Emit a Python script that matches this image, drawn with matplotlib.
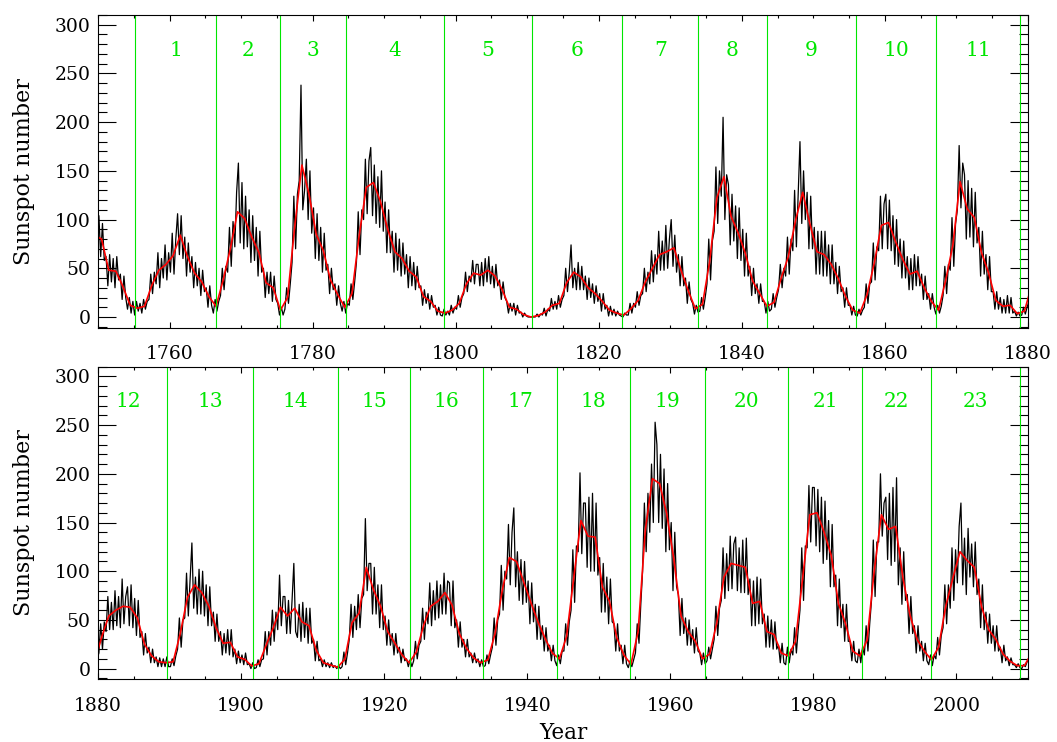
import matplotlib
matplotlib.use('Agg')
import matplotlib.pyplot as plt
import numpy as np
from matplotlib.ticker import MultipleLocator

# ---------------- data ----------------
# quarterly samples of the monthly sunspot number (4 per year)
black_start = 1749
black_values = [
    70, 112, 98, 60,     # 1749
    104, 62, 96, 58,     # 1750
    62, 32, 64, 36,
    60, 30, 62, 38,
    44, 18, 42, 20,
    8, 20, 4, 16,
    2, 16, 6, 14,        # 1755
    4, 18, 8, 16,
    18, 44, 24, 46,
    34, 66, 30, 60,
    40, 74, 38, 66,
    46, 86, 44, 80,      # 1760
    106, 64, 104, 60,
    82, 42, 76, 46,
    62, 30, 56, 32,
    50, 22, 48, 26,
    30, 10, 32, 12,      # 1765
    4, 18, 6, 16,
    22, 50, 28, 52,
    46, 92, 52, 98,
    72, 128, 158, 76,
    138, 70, 124, 72,    # 1770
    110, 56, 104, 58,
    92, 42, 88, 46,
    50, 20, 46, 24,
    46, 16, 42, 18,
    14, 2, 10, 2,        # 1775
    8, 30, 14, 34,
    56, 124, 70, 126,
    140, 238, 110, 130,
    162, 100, 150, 86,
    112, 60, 106, 58,    # 1780
    92, 46, 86, 48,
    54, 24, 50, 28,
    34, 12, 32, 14,
    6, 16, 4, 14,
    12, 34, 18, 36,      # 1785
    56, 108, 64, 110,
    100, 162, 106, 160,
    174, 104, 156, 96,
    144, 92, 150, 88,
    118, 66, 110, 66,    # 1790
    88, 46, 86, 48,
    80, 42, 76, 44,
    64, 30, 62, 32,
    56, 28, 52, 30,
    32, 12, 28, 14,      # 1795
    24, 8, 22, 10,
    12, 2, 10, 2,
    1, 8, 2, 6,
    2, 12, 4, 10,
    8, 22, 10, 20,       # 1800
    24, 46, 26, 42,
    36, 58, 34, 54,
    54, 32, 56, 32,
    60, 36, 62, 34,
    52, 30, 54, 32,      # 1805
    38, 18, 36, 20,
    16, 4, 14, 6,
    14, 2, 12, 4,
    5, 0, 4, 1,
    0, 0, 0, 0,          # 1810
    0, 3, 0, 3,
    2, 9, 1, 8,
    6, 19, 8, 16,
    8, 22, 10, 18,
    22, 50, 26, 46,      # 1815
    74, 30, 50, 28,
    56, 28, 52, 28,
    42, 18, 40, 20,
    34, 14, 32, 16,
    24, 6, 24, 8,        # 1820
    12, 1, 11, 2,
    8, 1, 6, 2,
    1, 0, 4, 2,
    2, 14, 4, 14,
    10, 26, 12, 22,      # 1825
    24, 50, 26, 46,
    34, 68, 36, 64,
    44, 88, 48, 78,
    48, 94, 50, 80,
    100, 52, 84, 46,     # 1830
    64, 32, 62, 32,
    40, 14, 36, 18,
    14, 3, 12, 5,
    6, 20, 8, 20,
    34, 80, 38, 78,      # 1835
    88, 154, 96, 150,
    124, 205, 100, 146,
    136, 74, 126, 78,
    114, 60, 112, 58,
    90, 42, 86, 42,      # 1840
    52, 22, 50, 24,
    34, 14, 34, 16,
    16, 4, 16, 6,
    8, 24, 10, 20,
    28, 54, 30, 50,      # 1845
    42, 82, 44, 80,
    68, 130, 72, 126,
    180, 96, 150, 100,
    128, 70, 124, 70,
    92, 44, 88, 44,      # 1850
    88, 42, 88, 42,
    74, 34, 74, 34,
    56, 24, 52, 26,
    30, 10, 30, 12,
    12, 2, 11, 2,        # 1855
    1, 8, 2, 7,
    10, 34, 14, 34,
    36, 76, 38, 72,
    68, 124, 70, 116,
    126, 70, 120, 68,    # 1860
    104, 54, 100, 52,
    80, 40, 78, 40,
    62, 28, 60, 28,
    64, 32, 62, 32,
    44, 18, 42, 18,      # 1865
    24, 8, 24, 10,
    3, 12, 4, 11,
    22, 52, 24, 54,
    48, 102, 52, 96,
    110, 176, 112, 158,  # 1870
    146, 80, 140, 82,
    132, 72, 128, 76,
    92, 42, 88, 44,
    64, 28, 62, 26,
    26, 8, 26, 8,        # 1875
    20, 4, 18, 4,
    22, 4, 20, 4,
    6, 1, 5, 1,
    2, 10, 3, 10,
    16, 46, 20, 48,      # 1880
    38, 74, 40, 68,
    40, 80, 44, 74,
    42, 92, 46, 74,
    84, 44, 86, 42,
    72, 34, 70, 32,      # 1885
    38, 14, 36, 16,
    22, 6, 20, 6,
    12, 2, 11, 2,
    10, 2, 12, 2,
    2, 10, 3, 13,        # 1890
    20, 52, 22, 50,
    52, 98, 54, 92,
    129, 62, 94, 56,
    102, 56, 100, 54,
    86, 44, 84, 44,      # 1895
    58, 28, 56, 28,
    38, 14, 36, 16,
    40, 14, 40, 12,
    20, 5, 18, 6,
    14, 4, 16, 4,        # 1900
    5, 0, 6, 0,
    1, 9, 2, 9,
    10, 38, 14, 38,
    24, 60, 28, 58,
    40, 96, 44, 74,      # 1905
    74, 36, 70, 36,
    70, 108, 38, 32,
    66, 28, 68, 32,
    62, 26, 62, 26,
    30, 8, 28, 8,        # 1910
    10, 2, 9, 2,
    6, 1, 6, 1,
    3, 0, 3, 0,
    2, 17, 4, 16,
    30, 66, 32, 64,      # 1915
    40, 76, 42, 72,
    76, 154, 80, 108,
    108, 56, 104, 56,
    86, 42, 86, 40,
    54, 24, 50, 24,      # 1920
    36, 14, 36, 16,
    22, 6, 20, 8,
    10, 2, 9, 2,
    8, 28, 10, 24,
    28, 62, 30, 58,      # 1925
    46, 88, 44, 80,
    50, 90, 52, 86,
    56, 98, 56, 90,
    88, 44, 90, 42,
    50, 22, 48, 22,      # 1930
    30, 12, 30, 12,
    16, 6, 16, 6,
    10, 2, 9, 2,
    3, 14, 5, 14,
    22, 52, 24, 50,      # 1935
    56, 106, 60, 100,
    92, 148, 86, 140,
    165, 84, 120, 70,
    112, 66, 110, 68,
    90, 46, 88, 48,      # 1940
    66, 30, 64, 30,
    44, 18, 42, 18,
    24, 8, 24, 8,
    3, 14, 5, 18,
    18, 46, 24, 48,      # 1945
    60, 122, 68, 126,
    120, 201, 118, 170,
    170, 104, 176, 100,
    180, 100, 170, 96,
    114, 58, 108, 58,    # 1950
    94, 46, 92, 48,
    46, 18, 46, 18,
    24, 5, 24, 5,
    1, 8, 2, 9,
    16, 46, 26, 66,      # 1955
    100, 170, 120, 180,
    140, 210, 150, 253,
    230, 150, 220, 144,
    205, 120, 190, 122,
    150, 80, 140, 84,    # 1960
    76, 34, 72, 36,
    52, 24, 50, 24,
    40, 16, 42, 18,
    16, 4, 16, 5,
    8, 22, 10, 20,       # 1965
    30, 64, 34, 62,
    70, 124, 72, 118,
    80, 136, 82, 128,
    135, 80, 124, 78,
    132, 78, 134, 76,    # 1970
    92, 44, 90, 44,
    94, 46, 92, 46,
    56, 22, 54, 22,
    50, 20, 48, 20,
    24, 6, 26, 6,        # 1975
    4, 22, 6, 20,
    14, 42, 16, 40,
    60, 124, 70, 126,
    124, 188, 130, 186,
    186, 126, 184, 120,  # 1980
    176, 108, 172, 112,
    152, 84, 148, 84,
    96, 44, 92, 42,
    66, 28, 66, 28,
    28, 8, 28, 8,        # 1985
    6, 20, 6, 22,
    14, 44, 18, 46,
    70, 132, 74, 130,
    130, 200, 136, 170,
    176, 112, 180, 106,  # 1990
    186, 110, 196, 86,
    124, 66, 120, 70,
    76, 36, 74, 36,
    44, 16, 44, 18,
    28, 8, 26, 8,        # 1995
    4, 14, 3, 14,
    10, 32, 14, 34,
    42, 86, 46, 86,
    62, 124, 70, 122,
    88, 146, 170, 86,    # 2000
    134, 76, 144, 94,
    128, 84, 130, 76,
    92, 42, 86, 40,
    58, 26, 56, 26,
    44, 18, 44, 18,      # 2005
    22, 6, 24, 8,
    12, 3, 11, 4,
    4, 1, 5, 1,
    0, 4, 2, 7,
    10, 22, 12, 24,      # 2010
]

# smoothed sunspot number (one value per year, plotted at mid-year)
smooth_start = 1749
smooth_values = [
    84, 80, 48, 47, 31, 12, 9, 11, 32, 48,            # 1749-1758
    54, 63, 84, 62, 45, 36, 21, 11, 38, 70,           # 1759-1768
    108, 101, 82, 66, 35, 30, 7, 20, 93, 156,         # 1769-1778
    126, 85, 68, 38, 23, 10, 24, 83, 133, 138,        # 1779-1788
    118, 90, 67, 60, 47, 41, 21, 16, 6, 4,            # 1789-1798
    7, 14, 34, 45, 43, 48, 42, 28, 10, 8,             # 1799-1808
    2.5, 0, 1.4, 5, 12, 14, 35, 46, 41, 30,           # 1809-1818
    24, 16, 7, 4, 2, 8.5, 17, 36, 50, 64,             # 1819-1828
    67, 71, 48, 27, 8.5, 13, 57, 122, 144, 103,       # 1829-1838
    86, 65, 37, 24, 11, 15, 40, 62, 99, 128,          # 1839-1848
    96, 67, 64, 54, 39, 21, 7, 4, 23, 55,             # 1849-1858
    94, 97, 77, 59, 44, 47, 30, 16, 7, 38,            # 1859-1868
    74, 139, 111, 102, 66, 45, 17, 11, 12, 3.4,       # 1869-1878
    6, 32, 54, 60, 64, 63, 52, 25, 13, 7,             # 1879-1888
    6, 7, 36, 73, 86, 78, 64, 42, 26, 27,             # 1889-1898
    12, 9.5, 2.7, 5, 24, 42, 63, 54, 62, 48,          # 1899-1908
    44, 19, 6, 3.6, 1.4, 9.6, 47, 57, 104, 81,        # 1909-1918
    64, 38, 26, 14, 6, 17, 44, 64, 69, 78,            # 1919-1928
    65, 36, 21, 11, 6, 9, 36, 80, 114, 110,           # 1929-1938
    89, 68, 48, 31, 16, 10, 33, 93, 152, 136,         # 1939-1948
    135, 84, 69, 32, 14, 4.4, 38, 142, 195, 190,      # 1949-1958
    159, 112, 54, 38, 28, 10, 15, 47, 94, 108,        # 1959-1968
    106, 104, 67, 69, 38, 35, 16, 13, 28, 93,         # 1969-1978
    158, 160, 140, 116, 67, 46, 18, 13, 29, 100,      # 1979-1988
    158, 143, 146, 94, 55, 30, 18, 9, 22, 64,         # 1989-1998
    93, 120, 111, 104, 64, 40, 30, 15, 7.5, 3,        # 1999-2008
    3, 16,                                            # 2009-2010
]

# solar-cycle minima (years) and cycle numbers
cycle_minima = [1755.2, 1766.5, 1775.5, 1784.7, 1798.3, 1810.6, 1823.3, 1833.9,
                1843.5, 1856.0, 1867.2, 1878.9, 1889.6, 1901.7, 1913.6, 1923.6,
                1933.8, 1944.2, 1954.3, 1964.9, 1976.5, 1986.8, 1996.5, 2008.9]
cycle_numbers = list(range(1, 24))

panel_ranges = [(1750, 1880), (1880, 2010)]

# ---------------- plot ----------------
plt.rcParams['font.family'] = ['DejaVu Serif']

t_black = black_start + (np.arange(len(black_values)) + 0.5) / 4.0
t_smooth = smooth_start + np.arange(len(smooth_values)) + 0.5

fig = plt.figure(figsize=(10.57, 7.42), dpi=100)
W, H = 1057.0, 742.0
axes = [fig.add_axes([98 / W, 1 - 327.7 / H, 930 / W, 312.7 / H]),
        fig.add_axes([98 / W, 1 - 679.3 / H, 930 / W, 312.6 / H])]

green = '#00e600'
for ax, (x0, x1) in zip(axes, panel_ranges):
    ax.plot(t_black, black_values, color='black', lw=0.9)
    ax.plot(t_smooth, smooth_values, color='red', lw=1.2)
    for m in cycle_minima:
        if x0 < m < x1:
            ax.axvline(m, color=green, lw=0.8)
    for i, n in enumerate(cycle_numbers):
        mid = 0.5 * (cycle_minima[i] + cycle_minima[i + 1])
        if x0 < mid < x1:
            ax.text(mid, 274, str(n), color=green, fontsize=14.5,
                    ha='center', va='center')
    ax.set_xlim(x0, x1)
    ax.set_ylim(-11, 310)
    ax.xaxis.set_major_locator(MultipleLocator(20))
    ax.xaxis.set_minor_locator(MultipleLocator(5))
    ax.yaxis.set_major_locator(MultipleLocator(50))
    ax.yaxis.set_minor_locator(MultipleLocator(10))
    ax.tick_params(which='both', direction='in', top=True, right=True,
                   width=0.8, colors='black')
    ax.tick_params(axis='x', which='major', length=4.5, pad=12.5, labelsize=13.5)
    ax.tick_params(axis='x', which='minor', length=2.3)
    ax.tick_params(axis='y', which='major', length=13.2, pad=5.5, labelsize=13.5)
    ax.tick_params(axis='y', which='minor', length=6.6)
    for s in ax.spines.values():
        s.set_linewidth(0.8)
    cy = 0.5 * (ax.get_position().y0 + ax.get_position().y1)
    fig.text(24 / W, cy, 'Sunspot number', rotation=90, ha='center',
             va='center', fontsize=16)

fig.text(563 / W, 1 - 733 / H, 'Year', ha='center', va='center', fontsize=15.5)

fig.savefig('out.png', dpi=100)
